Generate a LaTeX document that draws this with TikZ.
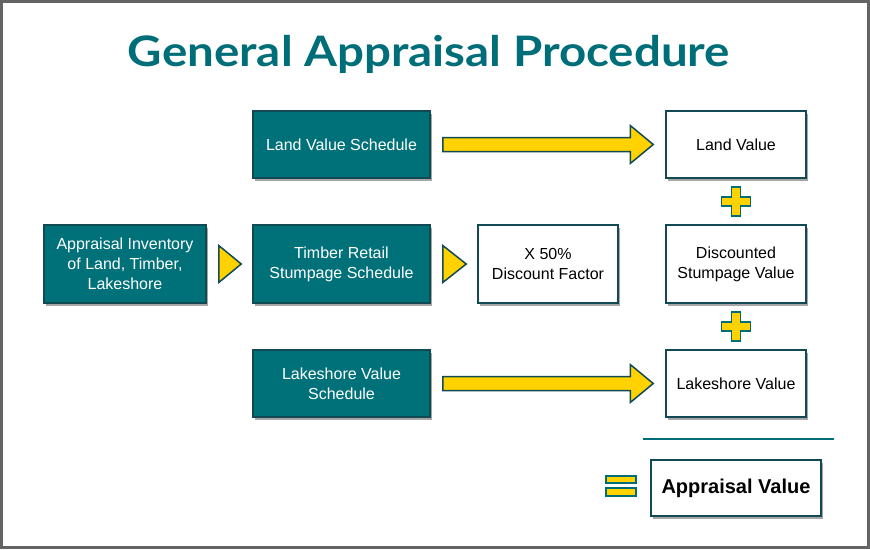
\documentclass[tikz,border=0pt]{standalone}
\usepackage{fontspec}
\setmainfont{Liberation Sans}
\newfontfamily\titlefont[FakeStretch=1.13]{Lato}
\usetikzlibrary{calc,shadows}
\definecolor{tealfill}{RGB}{0,113,121}
\definecolor{tealedge}{RGB}{18,74,84}
\definecolor{titleteal}{RGB}{0,110,120}
\definecolor{ylw}{RGB}{255,210,0}
\definecolor{framegray}{RGB}{100,100,100}
\begin{document}
\begin{tikzpicture}[x=1pt,y=-1pt,
  shad/.style={drop shadow={shadow xshift=1.5pt,shadow yshift=-2.5pt,fill=black,opacity=0.35}},
  tbox/.style={shad,draw=tealedge,line width=1.5pt,fill=tealfill,text=white,
    font=\fontsize{16}{20}\selectfont,align=center,inner sep=0pt},
  wbox/.style={shad,draw=tealedge,line width=1.5pt,fill=white,text=black,
    font=\fontsize{16}{20}\selectfont,align=center,inner sep=0pt},
  yshape/.style={fill=ylw,draw=tealedge,line width=1.5pt,line join=miter},
  sign/.style={fill=ylw,draw=titleteal,line width=1.5pt,line join=miter},
  rulestyle/.style={draw=titleteal,line width=2.5pt}]
\useasboundingbox (0,0) rectangle (870,549);
\draw[framegray,line width=3pt] (1.5,1.5) rectangle (868.5,547.5);
\node[anchor=base,text=titleteal,font=\titlefont\bfseries\fontsize{42}{46}\selectfont] (title) at (429,66) {General Appraisal Procedure};

\node[tbox,minimum width=177pt,minimum height=67pt] (lvs) at (341.5,144.5) {Land Value Schedule};
\node[tbox,minimum width=177pt,minimum height=78pt] (tss) at (341.5,264) {Timber Retail\\Stumpage Schedule};
\node[tbox,minimum width=177pt,minimum height=67pt] (lsvs) at (341.5,383.5) {Lakeshore Value\\Schedule};
\node[tbox,minimum width=162pt,minimum height=78pt] (inv) at (125,264) {Appraisal Inventory\\of Land, Timber,\\Lakeshore};
\node[wbox,minimum width=140pt,minimum height=78pt] (disc) at (548,264) {X 50\%\\Discount Factor};
\node[wbox,minimum width=140pt,minimum height=67pt] (lv) at (736,144.5) {Land Value};
\node[wbox,minimum width=140pt,minimum height=78pt] (dsv) at (736,264) {Discounted\\Stumpage Value};
\node[wbox,minimum width=140pt,minimum height=67pt] (lsv) at (736,383.5) {Lakeshore Value};
\node[wbox,line width=2pt,minimum width=170pt,minimum height=56pt,font=\bfseries\fontsize{20}{24}\selectfont] (av) at (736,488) {Appraisal Value};

% big arrows
\foreach \a/\b in {lvs/lv,lsvs/lsv}{
  \draw[yshape] let \p1=($(\a.east)+(12,0)$), \p2=($(\b.west)+(-12,0)$) in
    (\x1,\y1+7pt) -- (\x2-23pt,\y1+7pt) -- (\x2-23pt,\y1+19pt) -- (\x2,\y1)
    -- (\x2-23pt,\y1-19pt) -- (\x2-23pt,\y1-7pt) -- (\x1,\y1-7pt) -- cycle;
}
% triangles
\foreach \a/\b in {inv/tss,tss/disc}{
  \draw[yshape] let \p1=($(\a.east)+(12,0)$), \p2=($(\b.west)+(-11,0)$) in
    (\x1,\y1+18.5pt) -- (\x2,\y1) -- (\x1,\y1-18.5pt) -- cycle;
}
% plus signs
\coordinate (p1) at ($(lv.south)!0.5!(dsv.north)$);
\coordinate (p2) at ($(dsv.south)!0.5!(lsv.north)$);
\foreach \p in {p1,p2}{
  \draw[yshape,draw=titleteal] ($(\p)+(-4.5,-14.5)$) -- ++(9,0) -- ++(0,10) -- ++(10,0) -- ++(0,9)
    -- ++(-10,0) -- ++(0,10) -- ++(-9,0) -- ++(0,-10) -- ++(-10,0) -- ++(0,-9) -- ++(10,0) -- cycle;
}
% rule
\coordinate (r1) at (643,439);
\coordinate (r2) at (834,439);
\draw[rulestyle] (r1) -- (r2);
% equals
\draw[sign] ($(av.west)+(-44,-12)$) rectangle ++(30,7);
\draw[sign] ($(av.west)+(-44,0)$) rectangle ++(30,8);
\end{tikzpicture}
\end{document}
